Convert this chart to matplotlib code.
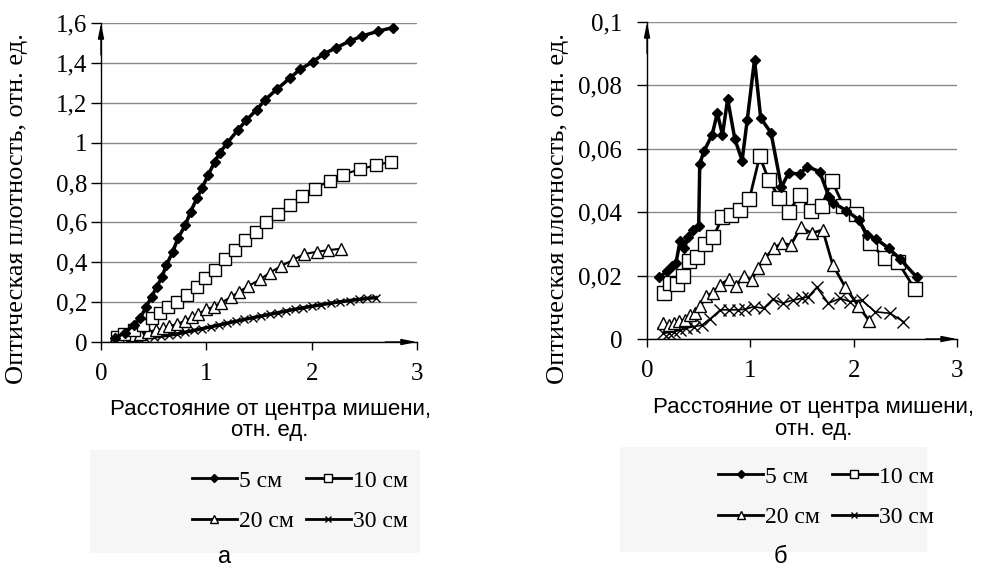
import matplotlib
matplotlib.use("Agg")
import matplotlib.pyplot as plt
from matplotlib.lines import Line2D
from matplotlib.patches import Rectangle

# ---- data ----
# (а) left panel
x5a = [0.13, 0.23, 0.31, 0.37, 0.43, 0.48, 0.53, 0.58, 0.62, 0.68, 0.73, 0.8, 0.85, 0.91, 0.96,
       1.02, 1.08, 1.13, 1.2, 1.3, 1.38, 1.48, 1.56, 1.67, 1.79, 1.89, 2.01, 2.12, 2.23, 2.36,
       2.48, 2.63, 2.77]
y5a = [0.02, 0.047, 0.085, 0.119, 0.177, 0.227, 0.277, 0.327, 0.386, 0.45, 0.52, 0.585, 0.653,
       0.72, 0.773, 0.84, 0.904, 0.95, 1.0, 1.063, 1.113, 1.166, 1.216, 1.268, 1.322, 1.368,
       1.405, 1.447, 1.475, 1.509, 1.535, 1.559, 1.577]
x10a = [0.15, 0.22, 0.31, 0.4, 0.48, 0.56, 0.64, 0.72, 0.82, 0.91, 0.99, 1.08, 1.18, 1.27, 1.37,
        1.47, 1.57, 1.68, 1.79, 1.91, 2.03, 2.17, 2.3, 2.46, 2.61, 2.75]
y10a = [0.027, 0.04, 0.06, 0.085, 0.119, 0.144, 0.174, 0.202, 0.236, 0.277, 0.319, 0.361, 0.414,
        0.461, 0.511, 0.553, 0.603, 0.64, 0.687, 0.732, 0.77, 0.81, 0.84, 0.867, 0.887, 0.904]
x20a = [0.13, 0.21, 0.29, 0.37, 0.45, 0.52, 0.59, 0.65, 0.72, 0.8, 0.86, 0.92, 1.0, 1.07, 1.14,
        1.23, 1.31, 1.4, 1.51, 1.6, 1.71, 1.82, 1.93, 2.05, 2.16, 2.28]
y20a = [0.019, 0.027, 0.033, 0.04, 0.052, 0.06, 0.068, 0.08, 0.09, 0.107, 0.124, 0.14, 0.164,
        0.177, 0.197, 0.224, 0.252, 0.281, 0.314, 0.347, 0.381, 0.411, 0.441, 0.453, 0.461, 0.468]
x30a = [0.13, 0.2, 0.27, 0.35, 0.42, 0.5, 0.57, 0.65, 0.72, 0.8, 0.88, 0.96, 1.04, 1.12, 1.2,
        1.28, 1.36, 1.44, 1.52, 1.6, 1.68, 1.76, 1.84, 1.92, 2.0, 2.09, 2.18, 2.27, 2.36, 2.45,
        2.53, 2.61]
y30a = [0.008, 0.01, 0.012, 0.016, 0.02, 0.025, 0.03, 0.035, 0.04, 0.049, 0.058, 0.067, 0.076,
        0.085, 0.095, 0.104, 0.113, 0.122, 0.13, 0.139, 0.147, 0.156, 0.164, 0.172, 0.179, 0.187,
        0.195, 0.202, 0.208, 0.214, 0.219, 0.223]

# (б) right panel
x5b = [0.12, 0.19, 0.24, 0.28, 0.32, 0.36, 0.4, 0.44, 0.5, 0.51, 0.55, 0.63, 0.68, 0.73, 0.78,
       0.85, 0.92, 0.97, 1.04, 1.1, 1.2, 1.3, 1.37, 1.48, 1.55, 1.67, 1.76, 1.8, 1.93, 2.05,
       2.13, 2.22, 2.34, 2.45, 2.61]
y5b = [0.0195, 0.0213, 0.023, 0.024, 0.031, 0.0286, 0.0323, 0.0344, 0.0357, 0.0552, 0.0592,
       0.0644, 0.0713, 0.0644, 0.0757, 0.063, 0.0563, 0.0692, 0.0881, 0.0697, 0.065, 0.0479,
       0.0523, 0.0521, 0.0544, 0.0528, 0.0449, 0.043, 0.0405, 0.0376, 0.0328, 0.0315, 0.0286,
       0.0252, 0.0195]
x10b = [0.16, 0.22, 0.29, 0.35, 0.41, 0.48, 0.56, 0.64, 0.73, 0.81, 0.9, 0.99, 1.09, 1.18, 1.28,
        1.37, 1.48, 1.59, 1.69, 1.79, 1.9, 2.02, 2.16, 2.3, 2.43, 2.59]
y10b = [0.0146, 0.0176, 0.0174, 0.0199, 0.0247, 0.0258, 0.0299, 0.0321, 0.0384, 0.0392, 0.0407,
        0.0441, 0.0576, 0.05, 0.0446, 0.0402, 0.0453, 0.0405, 0.0421, 0.0499, 0.042, 0.0394,
        0.0302, 0.0255, 0.0242, 0.0158]
x20b = [0.155, 0.209, 0.258, 0.306, 0.364, 0.412, 0.467, 0.515, 0.573, 0.638, 0.709, 0.789,
        0.863, 0.934, 1.014, 1.069, 1.143, 1.224, 1.304, 1.391, 1.488, 1.594, 1.7, 1.797, 1.916,
        2.045, 2.151]
y20b = [0.0049, 0.0044, 0.0052, 0.0058, 0.006, 0.0076, 0.0081, 0.0104, 0.0136, 0.0146, 0.0171,
        0.0188, 0.0167, 0.0199, 0.0186, 0.0223, 0.0255, 0.0286, 0.0302, 0.0297, 0.0352, 0.0334,
        0.0344, 0.0234, 0.0165, 0.0104, 0.0057]
x30b = [0.155, 0.209, 0.264, 0.322, 0.38, 0.451, 0.531, 0.605, 0.709, 0.789, 0.876, 0.95, 1.031,
        1.127, 1.217, 1.314, 1.411, 1.498, 1.562, 1.642, 1.755, 1.868, 1.964, 2.077, 2.206,
        2.351, 2.48]
y30b = [0.0018, 0.002, 0.0023, 0.0028, 0.0034, 0.0039, 0.0044, 0.0062, 0.0092, 0.0092, 0.0092,
        0.0094, 0.0102, 0.0097, 0.0125, 0.0113, 0.0123, 0.0128, 0.0134, 0.0163, 0.0113, 0.0128,
        0.0118, 0.0123, 0.0086, 0.0081, 0.0055]

labels = ["5 см", "10 см", "20 см", "30 см"]
xticks = [0, 1, 2, 3]
yticks_a = [0, 0.2, 0.4, 0.6, 0.8, 1.0, 1.2, 1.4, 1.6]
ytl_a = ["0", "0,2", "0,4", "0,6", "0,8", "1", "1,2", "1,4", "1,6"]
yticks_b = [0, 0.02, 0.04, 0.06, 0.08, 0.1]
ytl_b = ["0", "0,02", "0,04", "0,06", "0,08", "0,1"]

serif = "Liberation Serif"
sans = "Liberation Sans"

fig = plt.figure(figsize=(9.93, 5.8), dpi=100)
fig.patch.set_facecolor("white")


def setup(ax, yticks, ytl, ymax, pad):
    ax.set_xlim(0, 3)
    ax.set_ylim(0, ymax)
    ax.set_xticks(xticks)
    ax.set_xticklabels([str(t) for t in xticks], fontfamily=serif, fontsize=18)
    ax.set_yticks(yticks)
    ax.set_yticklabels(ytl, fontfamily=serif, fontsize=18)
    ax.tick_params(axis="x", direction="out", length=6, width=1, pad=9)
    ax.tick_params(axis="y", direction="out", length=7, width=1, pad=pad)
    ax.yaxis.grid(True, color="#8a8a8a", lw=1)
    ax.set_axisbelow(True)
    for s in ["top", "right"]:
        ax.spines[s].set_visible(False)
    ax.spines["left"].set_linewidth(1)
    ax.spines["bottom"].set_linewidth(1)
    ax.patch.set_alpha(0)
    # arrowheads on the axes
    ap = dict(arrowstyle="-|>,head_length=0.9,head_width=0.18", color="black", lw=1,
              shrinkA=0, shrinkB=0)
    ax.annotate("", xy=(0, 1.0), xytext=(0, 0.9), xycoords="axes fraction", arrowprops=ap)
    ax.annotate("", xy=(1.0, 0), xytext=(0.9, 0), xycoords="axes fraction", arrowprops=ap)


# ---- panel а ----
ax1 = fig.add_axes([0.1017, 0.4103, 0.3182, 0.55])
ax1.plot(x30a, y30a, color="black", lw=2.5, marker="x", ms=6, mew=1)
ax1.plot(x20a, y20a, color="black", lw=1.5, marker="^", ms=8, mfc="white", mew=1)
ax1.plot(x10a, y10a, color="black", lw=1.5, marker="s", ms=8.5, mfc="white", mew=1)
ax1.plot(x5a, y5a, color="black", lw=2.5, marker="D", ms=5)
setup(ax1, yticks_a, ytl_a, 1.6, 3)

# ---- panel б ----
ax2 = fig.add_axes([0.6516, 0.4155, 0.3122, 0.5466])
ax2.plot(x30b, y30b, color="black", lw=1.2, marker="x", ms=8, mew=1)
ax2.plot(x20b, y20b, color="black", lw=2, marker="^", ms=9, mfc="white", mew=1)
ax2.plot(x10b, y10b, color="black", lw=2, marker="s", ms=10, mfc="white", mew=1)
ax2.plot(x5b, y5b, color="black", lw=2.5, marker="D", ms=5)
setup(ax2, yticks_b, ytl_b, 0.1, 11)

# axis titles
ylab = "Оптическая плотность, отн. ед."
xlab = "Расстояние от центра мишени,\nотн. ед."
fig.text(0.017, 0.64, ylab, rotation=90, ha="center", va="center", fontfamily=serif, fontsize=19)
fig.text(0.562, 0.64, ylab, rotation=90, ha="center", va="center", fontfamily=serif, fontsize=19)
fig.text(0.272, 0.276, xlab, ha="center", va="center", fontfamily=sans, fontsize=16,
         linespacing=1.05)
fig.text(0.819, 0.278, xlab, ha="center", va="center", fontfamily=sans, fontsize=16,
         linespacing=1.05)

# legends
fig.patches.append(Rectangle((90 / 993, 27 / 580), 330 / 993, 103 / 580, transform=fig.transFigure,
                             facecolor="#f6f6f6", edgecolor="none", zorder=0))
fig.patches.append(Rectangle((620 / 993, 28 / 580), 307 / 993, 105 / 580, transform=fig.transFigure,
                             facecolor="#f6f6f6", edgecolor="none", zorder=0))

handles = [
    Line2D([], [], color="black", lw=2, marker="D", ms=4),
    Line2D([], [], color="black", lw=2, marker="s", ms=6, mfc="white", mew=1),
    Line2D([], [], color="black", lw=2, marker="^", ms=6, mfc="white", mew=1),
    Line2D([], [], color="black", lw=2, marker="x", ms=5, mew=1),
]
order = [0, 2, 1, 3]
for cx, cy in [(0.302, 0.136), (0.832, 0.143)]:
    fig.legend([handles[i] for i in order], [labels[i] for i in order], ncol=2,
               loc="center", bbox_to_anchor=(cx, cy), frameon=False,
               prop={"family": serif, "size": 17}, handlelength=1.9, handletextpad=0.1,
               columnspacing=0.5, labelspacing=0.8)

fig.text(0.2266, 0.04, "а", ha="center", va="center", fontfamily=sans, fontsize=17)
fig.text(0.7855, 0.04, "б", ha="center", va="center", fontfamily=sans, fontsize=17)

fig.savefig("out.png", dpi=100)
